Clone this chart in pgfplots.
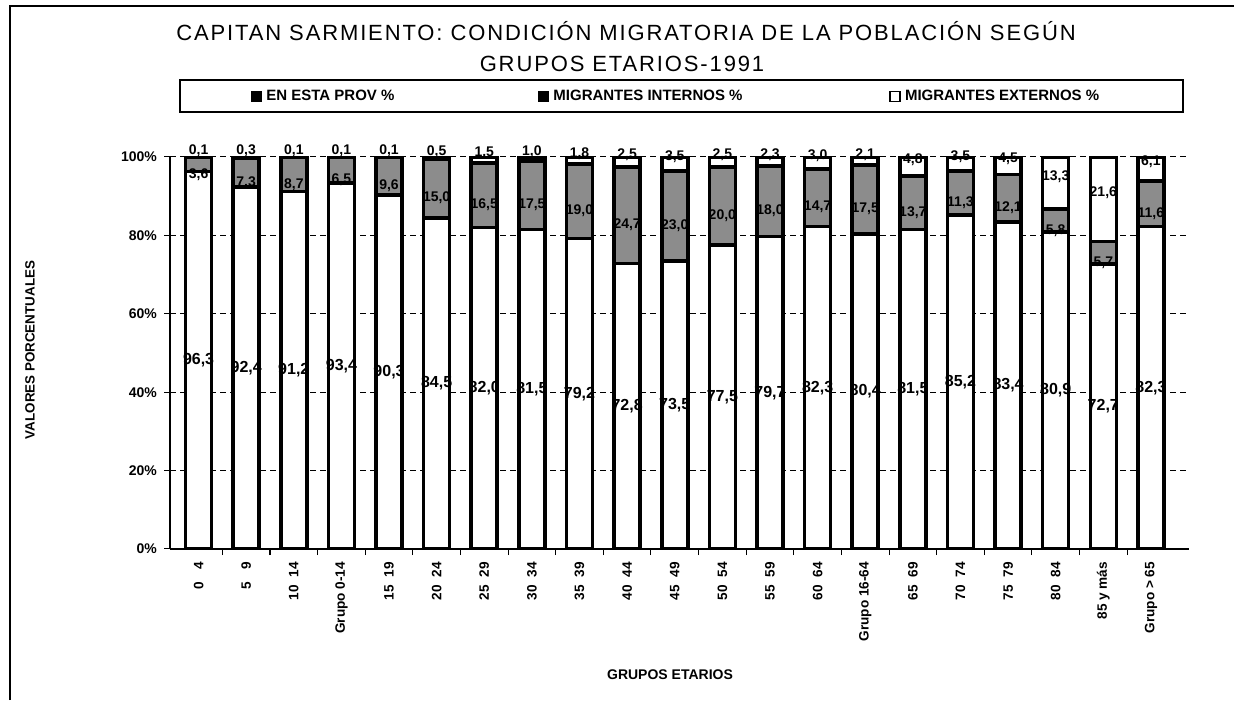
\documentclass[border=0pt]{standalone}
\usepackage{pgfplots}
\pgfplotsset{compat=1.18}
\usepackage{pgfplotstable}
\usepackage{fontspec}
\setmainfont{Liberation Sans}
\newfontfamily\titlefont[LetterSpace=8.5]{Liberation Sans}
\pgfplotstableread{
x bot int ext
0  96.3  3.6  0.1
1  92.4  7.3  0.3
2  91.2  8.7  0.1
3  93.4  6.5  0.1
4  90.3  9.6  0.1
5  84.5 15.0  0.5
6  82.0 16.5  1.5
7  81.5 17.5  1.0
8  79.2 19.0  1.8
9  72.8 24.7  2.5
10 73.5 23.0  3.5
11 77.5 20.0  2.5
12 79.7 18.0  2.3
13 82.3 14.7  3.0
14 80.4 17.5  2.1
15 81.5 13.7  4.8
16 85.2 11.3  3.5
17 83.4 12.1  4.5
18 80.9  5.8 13.3
19 72.7  5.7 21.6
20 82.3 11.6  6.1
}\datatable
\begin{document}
\begin{tikzpicture}
\useasboundingbox (0,0) rectangle (617pt,350pt);
\draw[line width=0.6pt] (5pt,0) -- (5pt,347pt) -- (617pt,347pt);
\begin{axis}[
  at={(85pt,75.5pt)}, anchor=south west,
  scale only axis, width=509.5pt, height=196pt,
  ybar stacked, bar width=13pt,
  xmin=-0.6, xmax=20.8, ymin=0, ymax=100,
  axis x line*=bottom, axis y line*=left,
  axis line style={black, line width=0.8pt},
  xtick={0,...,20},
  xticklabels={0\hspace{0.9em}4, 5\hspace{0.9em}9, 10\hspace{0.6em}14, Grupo 0-14, 15\hspace{0.6em}19, 20\hspace{0.6em}24, 25\hspace{0.6em}29, 30\hspace{0.6em}34, 35\hspace{0.6em}39, 40\hspace{0.6em}44, 45\hspace{0.6em}49, 50\hspace{0.6em}54, 55\hspace{0.6em}59, 60\hspace{0.6em}64, Grupo 16-64, 65\hspace{0.6em}69, 70\hspace{0.6em}74, 75\hspace{0.6em}79, 80\hspace{0.6em}84, 85 y más, Grupo > 65},
  x tick label style={rotate=90, anchor=east, font=\bfseries\fontsize{6.8}{8}\selectfont},
  major x tick style={draw=none},
  minor x tick num=1,
  minor x tick style={black, line width=0.5pt},
  minor tick length=3pt,
  ytick={0,20,40,60,80,100},
  yticklabels={0\%,20\%,40\%,60\%,80\%,100\%},
  y tick label style={font=\bfseries\fontsize{7}{8}\selectfont},
  major y tick style={black, line width=0.5pt},
  tick align=outside, major tick length=3pt,
  ymajorgrids,
  major grid style={black, line width=0.5pt, dash pattern=on 3pt off 2pt},
  legend style={at={(0.0795,1.154)}, anchor=west, draw=none, fill=none, inner sep=0pt,
    font=\bfseries\fontsize{7.5}{8}\selectfont},
  legend columns=3,
  legend cell align=left,
  nodes near coords={\pgfmathprintnumber[use comma,fixed,precision=1,fixed zerofill,assume math mode=true]{\pgfplotspointmeta}},
  point meta=explicit,
]
\addplot[fill=white, draw=black, line width=1.8pt,
  legend image code/.code={\draw[black, fill=black, line width=0.5pt] (0pt,-2.5pt) rectangle (5pt,2.5pt);},
  every node near coord/.style={font=\bfseries\fontsize{8}{9}\selectfont, text=black, anchor=center},
] table[x=x, y=bot, meta=bot]{\datatable};
\addlegendentry{\makebox[134pt][l]{EN ESTA PROV \%}}
\addplot[fill=black!45, draw=black, line width=1.8pt,
  legend image code/.code={\draw[black, fill=black, line width=0.5pt] (0pt,-2.5pt) rectangle (5pt,2.5pt);},
  every node near coord/.style={font=\bfseries\fontsize{7}{8}\selectfont, text=black, anchor=north, inner sep=1pt},
] table[x=x, y=int, meta=int]{\datatable};
\addlegendentry{\makebox[166pt][l]{MIGRANTES INTERNOS \%}}
\addplot[fill=white, draw=black, line width=1.8pt,
  legend image code/.code={\draw[black, fill=white, line width=0.8pt] (0pt,-2.5pt) rectangle (5pt,2.5pt);},
  every node near coord/.style={font=\bfseries\fontsize{7}{8}\selectfont, text=black, anchor=south, inner sep=1pt, yshift=-1.5pt},
] table[x=x, y=ext, meta=ext]{\datatable};
\addlegendentry{MIGRANTES EXTERNOS \%}
\end{axis}
\draw[line width=0.6pt] (90pt,294pt) rectangle (591.5pt,310pt);
\node[font=\titlefont\fontsize{11}{13}\selectfont] at (313pt,334.5pt) {CAPITAN SARMIENTO: CONDICIÓN MIGRATORIA DE LA POBLACIÓN SEGÚN};
\node[font=\titlefont\fontsize{11}{13}\selectfont] at (311pt,318pt) {GRUPOS ETARIOS-1991};
\node[rotate=90, font=\bfseries\fontsize{6.7}{8}\selectfont] at (15pt,175pt) {VALORES PORCENTUALES};
\node[font=\bfseries\fontsize{7}{8}\selectfont] at (335pt,12.5pt) {GRUPOS ETARIOS};
\end{tikzpicture}
\end{document}
